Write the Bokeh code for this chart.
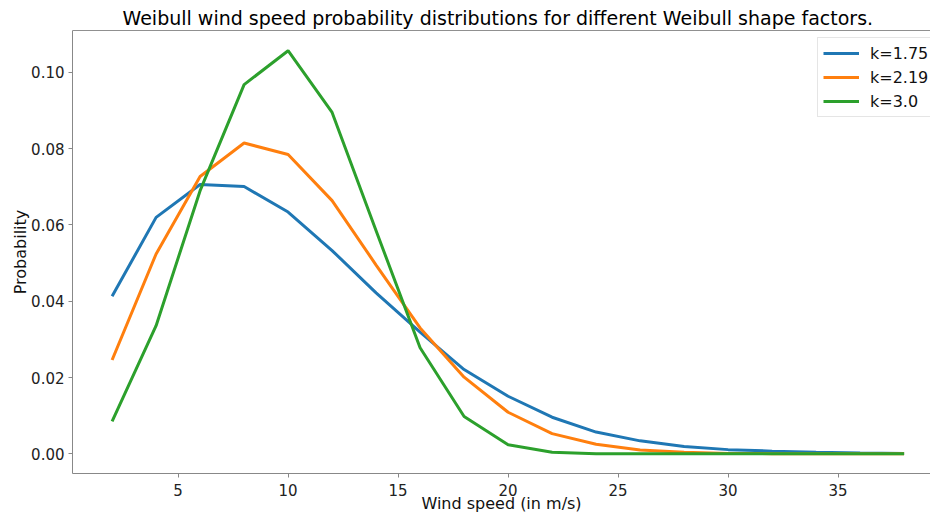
from bokeh.plotting import figure
from bokeh.models import Range1d, FixedTicker, PrintfTickFormatter, Legend, LegendItem, Span
from bokeh.embed import file_html
from bokeh.resources import INLINE

# ---- data ----
wind_speed = [2, 4, 6, 8, 10, 12, 14, 16, 18, 20, 22, 24, 26, 28, 30, 32, 34, 36, 38]
prob_k175 = [0.0413, 0.0620, 0.0706, 0.0701, 0.0634, 0.0533, 0.0422, 0.0319, 0.0221, 0.0151,
             0.0096, 0.0057, 0.0034, 0.0019, 0.0011, 0.0007, 0.0004, 0.0002, 0.0001]
prob_k219 = [0.0246, 0.0524, 0.0727, 0.0815, 0.0785, 0.0664, 0.0495, 0.0330, 0.0201, 0.0109,
             0.0053, 0.0025, 0.0010, 0.0004, 0.0001, 0.00005, 0.00001, 0.0, 0.0]
prob_k300 = [0.0085, 0.0336, 0.0690, 0.0968, 0.1057, 0.0895, 0.0585, 0.0278, 0.0098, 0.0024,
             0.0004, 0.00003, 0.0, 0.0, 0.0, 0.0, 0.0, 0.0, 0.0]
series_labels = ["k=1.75", "k=2.19", "k=3.0"]
series_colors = ["#1f77b4", "#ff7f0e", "#2ca02c"]
x_ticks = [5, 10, 15, 20, 25, 30, 35]
y_ticks = [0.00, 0.02, 0.04, 0.06, 0.08, 0.10]

FONT = "DejaVu Sans"
Y_TOP = 0.111

p = figure(width=930, height=516, output_backend="svg", toolbar_location=None,
           x_range=Range1d(0.2, 39.2), y_range=Range1d(-0.00516, Y_TOP),
           min_border_left=72, min_border_right=0, min_border_top=30, min_border_bottom=43)

p.title.text = "Weibull wind speed probability distributions for different Weibull shape factors."
p.title.align = "left"
p.title.offset = 50
p.title.text_font = FONT
p.title.text_font_size = "19px"
p.title.text_font_style = "normal"
p.title.text_color = "#000000"
p.title.standoff = 3

p.outline_line_color = None
p.xgrid.grid_line_color = None
p.ygrid.grid_line_color = None
p.background_fill_color = "white"
p.border_fill_color = "white"

for ax in (p.xaxis[0], p.yaxis[0]):
    ax.axis_line_color = "#888888"
    ax.major_tick_line_color = "#888888"
    ax.minor_tick_line_color = None
    ax.major_tick_out = 4
    ax.major_tick_in = 0
    ax.major_label_text_font = FONT
    ax.major_label_text_font_size = "15px"
    ax.major_label_text_color = "#222222"
    ax.axis_label_text_font = FONT
    ax.axis_label_text_font_size = "16px"
    ax.axis_label_text_font_style = "normal"
    ax.axis_label_text_color = "#111111"
    ax.major_label_standoff = 4

p.xaxis[0].ticker = FixedTicker(ticks=x_ticks)
p.yaxis[0].ticker = FixedTicker(ticks=y_ticks)
p.yaxis[0].formatter = PrintfTickFormatter(format="%.2f")
p.xaxis[0].axis_label = "Wind speed (in m/s)"
p.yaxis[0].axis_label = "Probability"
p.xaxis[0].major_label_standoff = 6
p.xaxis[0].axis_label_standoff = -5
p.yaxis[0].axis_label_standoff = -2

# top spine
p.add_layout(Span(location=Y_TOP, dimension="width", line_color="#222222", line_width=1))

items = []
for ys, lab, col in zip([prob_k175, prob_k219, prob_k300], series_labels, series_colors):
    r = p.line(wind_speed, ys, line_color=col, line_width=3)
    items.append(LegendItem(label=lab, renderers=[r]))

legend = Legend(items=items, location=(745, 356))
legend.label_text_font = FONT
legend.label_text_font_size = "16px"
legend.label_text_color = "#111111"
legend.glyph_width = 36
legend.glyph_height = 20
legend.label_height = 20
legend.label_standoff = 11
legend.spacing = 4
legend.padding = 5
legend.margin = 0
legend.border_line_color = "#cccccc"
legend.border_line_width = 1
legend.background_fill_alpha = 0.8
p.add_layout(legend)

open("out.html", "w").write(file_html(p, INLINE))
